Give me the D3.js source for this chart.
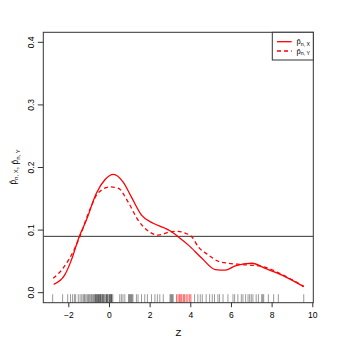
<!DOCTYPE html>
<html>
<head>
<meta charset="utf-8">
<script src="https://cdn.jsdelivr.net/npm/d3@7"></script>
<style>
  body { margin: 0; background: #fff; }
  text { font-family: "Liberation Sans", Arial, sans-serif; fill: #000; }
</style>
</head>
<body>
<div class="chart"></div>
<script>
  // estimated density curves
  var zX = [-2.72, -2.18, -1.85, -1.47, -1.11, -0.62, -0.21, 0.22, 0.69, 1.10, 1.60, 2.17, 2.76, 3.0, 3.40, 3.91, 4.57, 5.23, 5.72, 6.21, 7.03, 7.69, 8.51, 9.58];
  var pX = [0.0134, 0.028, 0.052, 0.089, 0.116, 0.159, 0.180, 0.189, 0.177, 0.153, 0.124, 0.111, 0.103, 0.099, 0.0895, 0.076, 0.055, 0.037, 0.036, 0.043, 0.047, 0.039, 0.028, 0.0096];

  var zY = [-2.74, -2.26, -1.68, -1.44, -0.95, -0.54, 0.04, 0.45, 0.94, 1.43, 2.0, 2.42, 3.0, 3.4, 3.75, 4.08, 4.40, 4.90, 5.39, 5.88, 6.54, 7.53, 8.51, 9.58];
  var pY = [0.023, 0.039, 0.071, 0.089, 0.132, 0.159, 0.169, 0.167, 0.145, 0.116, 0.097, 0.092, 0.097, 0.098, 0.095, 0.089, 0.073, 0.060, 0.050, 0.047, 0.045, 0.042, 0.029, 0.010];

  // horizontal reference level
  var threshold = 0.09;

  // rug of observations (black) and highlighted ones (red)
  var rugBlack = [-2.77, -2.28, -2.03, -1.89, -1.79, -1.70, -1.64, -1.51, -1.42, -1.34,
    -1.27, -1.22, -1.18, -1.12, -1.05, -1.01, -0.96, -0.90, -0.86, -0.80, -0.77, -0.72,
    -0.68, -0.66, -0.63, -0.60, -0.58, -0.55, -0.52, -0.50, -0.47, -0.44, -0.42, -0.40,
    -0.36, -0.31, -0.30, -0.28, -0.24, -0.20, -0.15, -0.12, -0.10, -0.08, -0.05, 0.0,
    0.03, 0.05, 0.07, 0.11, 0.12, 0.14, 0.19, 0.53, 0.61, 0.69, 0.78, 0.96, 1.0, 1.03,
    1.07, 1.10, 1.14, 1.18, 1.35, 1.43, 1.60, 1.76, 1.89, 2.09, 2.26, 2.38, 2.50, 2.67,
    3.0, 3.04, 3.08, 3.12, 3.16, 4.21, 4.37, 4.49, 4.59, 4.78, 4.95, 5.08, 5.19, 5.36,
    5.44, 5.61, 5.85, 6.10, 6.18, 6.34, 6.51, 6.59, 6.72, 6.84, 6.92, 7.00, 7.08, 7.24,
    7.35, 7.51, 7.56, 7.61, 7.84, 8.10, 8.33, 9.58];
  var rugRed = [3.32, 3.40, 3.47, 3.53, 3.58, 3.66, 3.72, 3.80, 3.88, 3.97, 4.03];

  var xTicks = [-2, 0, 2, 4, 6, 8, 10];
  var yTicks = [0, 0.1, 0.2, 0.3, 0.4];

  var width = 346;
  var height = 346;
  var pLeft = 43.3, pRight = 313.3, pTop = 32.3, pBottom = 302.7;

  var svg = d3.select('.chart')
    .append('svg')
    .attr('width', width)
    .attr('height', height);

  // r style limits: data range padded by 4%
  var x = d3.scaleLinear().domain([-3.23, 10.05]).range([pLeft, pRight]);
  var y = d3.scaleLinear().domain([-0.016, 0.416]).range([pBottom, pTop]);

  // clip so lines stay inside the box
  svg.append('defs').append('clipPath').attr('id', 'plot')
    .append('rect')
    .attr('x', pLeft).attr('y', pTop)
    .attr('width', pRight - pLeft).attr('height', pBottom - pTop);

  var plot = svg.append('g').attr('clip-path', 'url(#plot)');

  // rug
  plot.selectAll('.rug-black')
    .data(rugBlack)
    .enter()
    .append('line')
    .attr('class', 'rug-black')
    .attr('x1', function(d){ return x(d) })
    .attr('x2', function(d){ return x(d) })
    .attr('y1', pBottom - 8.5)
    .attr('y2', pBottom)
    .attr('stroke', 'rgba(0,0,0,0.4)')
    .attr('stroke-width', 1);

  plot.selectAll('.rug-red')
    .data(rugRed)
    .enter()
    .append('line')
    .attr('class', 'rug-red')
    .attr('x1', function(d){ return x(d) })
    .attr('x2', function(d){ return x(d) })
    .attr('y1', pBottom - 8.5)
    .attr('y2', pBottom)
    .attr('stroke', 'rgba(255,0,0,0.6)')
    .attr('stroke-width', 1);

  // reference line
  plot.append('line')
    .attr('x1', pLeft).attr('x2', pRight)
    .attr('y1', y(threshold)).attr('y2', y(threshold))
    .attr('stroke', '#333')
    .attr('stroke-width', 1);

  var line = d3.line()
    .x(function(d){ return x(d[0]) })
    .y(function(d){ return y(d[1]) })
    .curve(d3.curveMonotoneX);

  plot.append('path')
    .datum(d3.zip(zY, pY))
    .attr('d', line)
    .attr('fill', 'none')
    .attr('stroke', '#f00')
    .attr('stroke-width', 1.3)
    .attr('stroke-dasharray', '4,3');

  plot.append('path')
    .datum(d3.zip(zX, pX))
    .attr('d', line)
    .attr('fill', 'none')
    .attr('stroke', '#f00')
    .attr('stroke-width', 1.3);

  // box
  svg.append('rect')
    .attr('x', pLeft).attr('y', pTop)
    .attr('width', pRight - pLeft).attr('height', pBottom - pTop)
    .attr('fill', 'none')
    .attr('stroke', '#333')
    .attr('stroke-width', 1);

  // x axis
  var xAxis = svg.append('g')
    .attr('transform', 'translate(0,' + pBottom + ')')
    .call(d3.axisBottom(x).tickValues(xTicks).tickSize(4.5).tickPadding(5).tickFormat(d3.format('d')));
  xAxis.select('.domain').remove();
  xAxis.selectAll('line').attr('stroke', '#333');
  xAxis.selectAll('text').attr('font-size', 8.5).attr('font-family', '"Liberation Sans", Arial, sans-serif').attr('fill', '#000');

  // y axis with rotated labels
  var yAxis = svg.append('g');
  yAxis.selectAll('.ytick')
    .data(yTicks)
    .enter()
    .append('line')
    .attr('x1', pLeft - 5.5).attr('x2', pLeft)
    .attr('y1', function(d){ return y(d) })
    .attr('y2', function(d){ return y(d) })
    .attr('stroke', '#333');
  yAxis.selectAll('.ylab')
    .data(yTicks)
    .enter()
    .append('text')
    .attr('transform', function(d){ return 'translate(34,' + y(d) + ') rotate(-90)' })
    .attr('text-anchor', 'middle')
    .attr('font-size', 8.5)
    .text(function(d){ return d3.format('.1f')(d) });

  // axis titles
  svg.append('text')
    .attr('x', 178.3).attr('y', 336)
    .attr('text-anchor', 'middle')
    .attr('font-size', 9.5)
    .text('Z');

  function hatLabel(sel, sub, size) {
    sel.append('tspan').text('p\u0302');
    sel.append('tspan').attr('font-size', size * 0.7).attr('dy', size * 0.25).text('n, ' + sub);
    sel.append('tspan').attr('dy', -size * 0.25).text('');
  }

  var ylab = svg.append('text')
    .attr('transform', 'translate(16,167) rotate(-90)')
    .attr('text-anchor', 'middle')
    .attr('font-size', 8.5);
  hatLabel(ylab, 'X', 8.5);
  ylab.append('tspan').text(', ');
  hatLabel(ylab, 'Y', 8.5);

  // legend
  svg.append('rect')
    .attr('x', 272.3).attr('y', pTop)
    .attr('width', pRight - 272.3).attr('height', 60 - pTop)
    .attr('fill', '#fff')
    .attr('stroke', '#333');

  var legendRows = [
    { sub: 'X', dash: null, y: 41.7 },
    { sub: 'Y', dash: '4,3', y: 51 }
  ];
  legendRows.forEach(function(r){
    svg.append('line')
      .attr('x1', 277).attr('x2', 291.7)
      .attr('y1', r.y).attr('y2', r.y)
      .attr('stroke', '#f00')
      .attr('stroke-width', 1.3)
      .attr('stroke-dasharray', r.dash);
    var t = svg.append('text')
      .attr('x', 296.5).attr('y', r.y + 2.5)
      .attr('font-size', 7.5);
    hatLabel(t, r.sub, 7.5);
  });
</script>
</body>
</html>
